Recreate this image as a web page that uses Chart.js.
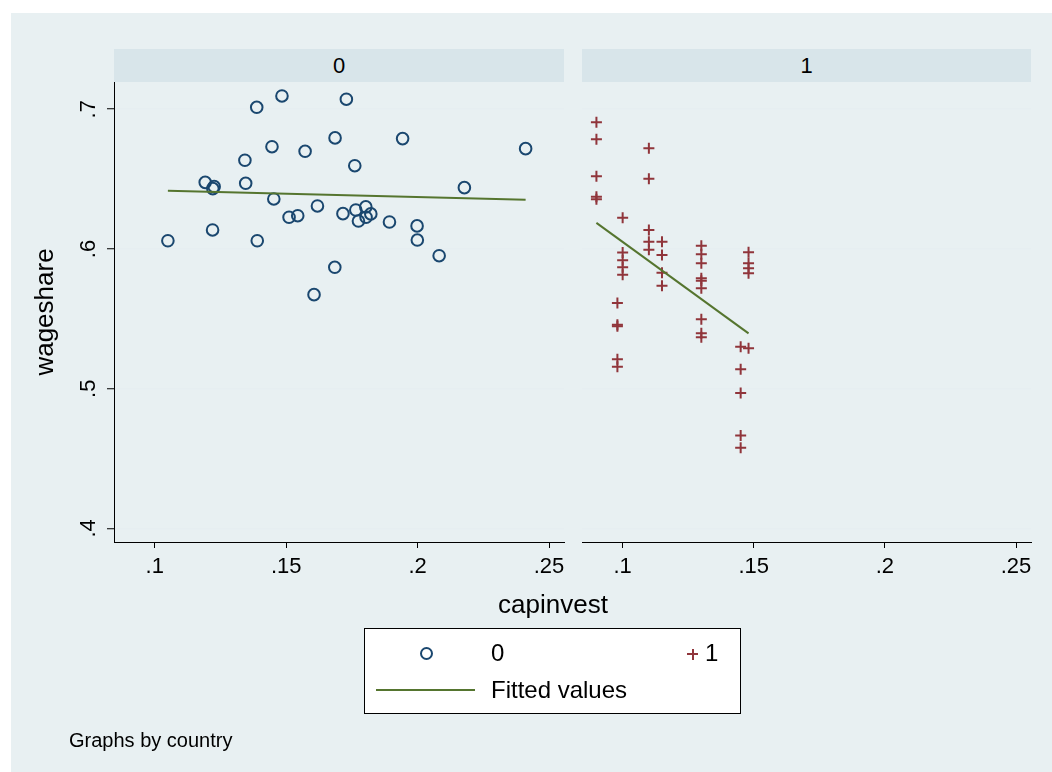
<!DOCTYPE html>
<html>
<head>
<meta charset="utf-8">
<script src="https://cdn.jsdelivr.net/npm/chart.js@4"></script>
<style>
  html, body { margin: 0; padding: 0; background: #ffffff; }
  body { width: 1052px; height: 772px; position: relative; overflow: hidden; font-family: "Liberation Sans", Arial, Helvetica, sans-serif; color: #000; }
  #bg { position: absolute; left: 11px; top: 13px; width: 1041px; height: 759px; background: #e8f0f2; }
  .strip { position: absolute; top: 49px; height: 33px; background: #d8e5ea; text-align: center; font-size: 22px; line-height: 34px; }
  canvas { position: absolute; left: 0; top: 0; }
  .txt { position: absolute; white-space: nowrap; }
  #legend { position: absolute; left: 364px; top: 628px; width: 377px; height: 86px; background: #fff; border: 1px solid #000; box-sizing: border-box; }
</style>
</head>
<body>
<div id="bg"></div>
<div class="strip" id="strip0" style="left:114px;width:450px;"></div>
<div class="strip" id="strip1" style="left:582px;width:449px;"></div>
<canvas id="c0" width="1052" height="772"></canvas>
<canvas id="c1" width="1052" height="772"></canvas>
<div class="txt" id="xtitle" style="left:453px;width:200px;text-align:center;top:589px;font-size:26px;"></div>
<div id="legend"></div>
<div class="txt" id="note" style="left:69px;top:729px;font-size:20px;"></div>
<script>
// ---------- data ----------
const panelLabels = ['0', '1'];
const xTitle = 'capinvest';
const yTitle = 'wageshare';
const noteText = 'Graphs by country';
const legendLabels = ['0', '1', 'Fitted values'];

const xTickValues = [0.1, 0.15, 0.2, 0.25];
const xTickLabels = ['.1', '.15', '.2', '.25'];
const yTickValues = [0.4, 0.5, 0.6, 0.7];
const yTickLabels = ['.4', '.5', '.6', '.7'];

// country 0
const capinvest0 = [0.1050, 0.1220, 0.1192, 0.1226, 0.1221, 0.1343, 0.1346, 0.1388, 0.1390, 0.1446,
  0.1453, 0.1484, 0.1511, 0.1544, 0.1572, 0.1619, 0.1606, 0.1685, 0.1686, 0.1729,
  0.1943, 0.2411, 0.1761, 0.2178, 0.1716, 0.1765, 0.1803, 0.1822, 0.1775, 0.1804,
  0.1893, 0.1998, 0.1999, 0.2082];
const wageshare0 = [0.6059, 0.6136, 0.6477, 0.6446, 0.6432, 0.6635, 0.6470, 0.7014, 0.6059, 0.6732,
  0.6358, 0.7095, 0.6227, 0.6238, 0.6699, 0.6308, 0.5673, 0.5869, 0.6795, 0.7072,
  0.6790, 0.6718, 0.6596, 0.6439, 0.6253, 0.6279, 0.6301, 0.6251, 0.6200, 0.6227,
  0.6193, 0.6165, 0.6064, 0.5952];
const fitX0 = [0.1050, 0.2411];
const fitY0 = [0.6417, 0.6353];

// country 1
const capinvest1 = [0.090, 0.090, 0.090, 0.090, 0.090,
  0.098, 0.098, 0.098, 0.098, 0.098,
  0.100, 0.100, 0.100, 0.100, 0.100,
  0.110, 0.110, 0.110, 0.110, 0.110,
  0.115, 0.115, 0.115, 0.115,
  0.130, 0.130, 0.130, 0.130, 0.130, 0.130, 0.130, 0.130, 0.130,
  0.145, 0.145, 0.145, 0.145, 0.145,
  0.148, 0.148, 0.148, 0.148, 0.148];
const wageshare1 = [0.6907, 0.6785, 0.6520, 0.6374, 0.6356,
  0.5613, 0.5458, 0.5447, 0.5210, 0.5157,
  0.6224, 0.5974, 0.5919, 0.5869, 0.5816,
  0.6721, 0.6503, 0.6136, 0.6052, 0.5995,
  0.6052, 0.5957, 0.5830, 0.5737,
  0.6024, 0.5962, 0.5898, 0.5790, 0.5773, 0.5719, 0.5497, 0.5397, 0.5368,
  0.5301, 0.5139, 0.4969, 0.4666, 0.4578,
  0.5976, 0.5898, 0.5862, 0.5826, 0.5289];
const fitX1 = [0.0900, 0.1480];
const fitY1 = [0.6187, 0.5396];

// axis ranges
const xMin = 0.0845, xMax = 0.2557;
const yMin = 0.3903, yMax = 0.7195;

// ---------- styles ----------
const FONT = '"Liberation Sans", Arial, Helvetica, sans-serif';
const navy = '#1a476f';
const maroon = '#90353b';
const olive = '#55752f';
const gridCol = '#e6eef1';

document.getElementById('strip0').textContent = panelLabels[0];
document.getElementById('strip1').textContent = panelLabels[1];
document.getElementById('xtitle').textContent = xTitle;
document.getElementById('note').textContent = noteText;

const toPts = (xs, ys) => xs.map((x, i) => ({ x: x, y: ys[i] }));

const rotatedYTicks = {
  id: 'rotatedYTicks',
  afterDraw(chart) {
    const s = chart.scales.y;
    const ctx = chart.ctx;
    ctx.save();
    ctx.font = '22px ' + FONT;
    ctx.fillStyle = '#000';
    ctx.textAlign = 'center';
    ctx.textBaseline = 'middle';
    s.ticks.forEach((t) => {
      const idx = yTickValues.indexOf(t.value);
      const py = s.getPixelForValue(t.value);
      ctx.save();
      ctx.translate(89, py);
      ctx.rotate(-Math.PI / 2);
      ctx.fillText(yTickLabels[idx], 0, 0);
      ctx.restore();
    });
    ctx.restore();
  }
};

function makeX() {
  return {
    type: 'linear', min: xMin, max: xMax,
    afterBuildTicks: (s) => { s.ticks = xTickValues.map(v => ({ value: v })); },
    afterFit: (s) => { s.height = 40; },
    border: { display: true, color: '#000', width: 1 },
    grid: { display: true, drawOnChartArea: false, drawTicks: true, tickLength: 6, tickColor: '#000', tickWidth: 1 },
    ticks: {
      autoSkip: false, maxRotation: 0, minRotation: 0, padding: 6, color: '#000',
      font: { family: FONT, size: 22 },
      callback: (v) => { const i = xTickValues.indexOf(v); return i >= 0 ? xTickLabels[i] : ''; }
    }
  };
}

function makeChart(id, pts, fitPts, style, isLeft) {
  const scatter = {
    type: 'scatter', data: pts, order: 2,
    pointStyle: style.pointStyle, pointRadius: style.radius, pointHoverRadius: style.radius,
    borderColor: style.color, backgroundColor: style.fill, pointBorderWidth: style.bw, borderWidth: style.bw
  };
  const fit = {
    type: 'line', data: fitPts, order: 1, showLine: true,
    borderColor: olive, borderWidth: 2, pointRadius: 0, fill: false, tension: 0
  };
  const yScale = {
    type: 'linear', min: yMin, max: yMax,
    afterBuildTicks: (s) => { s.ticks = yTickValues.map(v => ({ value: v })); },
    afterFit: (s) => { s.width = isLeft ? 114 : 0; },
    border: { display: isLeft, color: '#000', width: 1 },
    grid: { display: true, color: gridCol, lineWidth: 1.5, drawTicks: isLeft, tickLength: 7, tickColor: '#000', tickWidth: 1 },
    ticks: { display: false },
    title: isLeft ? { display: true, text: yTitle, color: '#000', font: { family: FONT, size: 26 }, padding: { top: 30, bottom: 0 } } : { display: false }
  };
  return new Chart(document.getElementById(id), {
    type: 'scatter',
    data: { datasets: [scatter, fit] },
    options: {
      responsive: false, animation: false, devicePixelRatio: 1,
      layout: { padding: isLeft ? { left: 0, right: 1052 - 564, top: 82, bottom: 772 - 542 - 40 }
                                : { left: 582, right: 1052 - 1031, top: 82, bottom: 772 - 542 - 40 } },
      plugins: { legend: { display: false }, tooltip: { enabled: false }, title: { display: false } },
      scales: { x: makeX(), y: yScale }
    },
    plugins: isLeft ? [rotatedYTicks] : []
  });
}

makeChart('c0', toPts(capinvest0, wageshare0), toPts(fitX0, fitY0),
  { pointStyle: 'circle', radius: 5.8, color: navy, fill: 'rgba(0,0,0,0)', bw: 2 }, true);
makeChart('c1', toPts(capinvest1, wageshare1), toPts(fitX1, fitY1),
  { pointStyle: 'cross', radius: 5.5, color: maroon, fill: maroon, bw: 2 }, false);

// ---------- legend ----------
const lg = document.getElementById('legend');
lg.innerHTML =
  '<div style="position:absolute;left:55px;top:18px;width:9px;height:9px;border:2px solid ' + navy + ';border-radius:50%;"></div>' +
  '<div class="txt" style="left:126px;top:10px;font-size:24px;line-height:28px;">' + legendLabels[0] + '</div>' +
  '<div style="position:absolute;left:322px;top:24px;width:11px;height:2px;background:' + maroon + ';"></div>' +
  '<div style="position:absolute;left:326.5px;top:19.5px;width:2px;height:11px;background:' + maroon + ';"></div>' +
  '<div class="txt" style="left:340px;top:10px;font-size:24px;line-height:28px;">' + legendLabels[1] + '</div>' +
  '<div style="position:absolute;left:11px;top:60px;width:99px;height:2px;background:' + olive + ';"></div>' +
  '<div class="txt" style="left:126px;top:47px;font-size:24px;line-height:28px;">' + legendLabels[2] + '</div>';
</script>
</body>
</html>
